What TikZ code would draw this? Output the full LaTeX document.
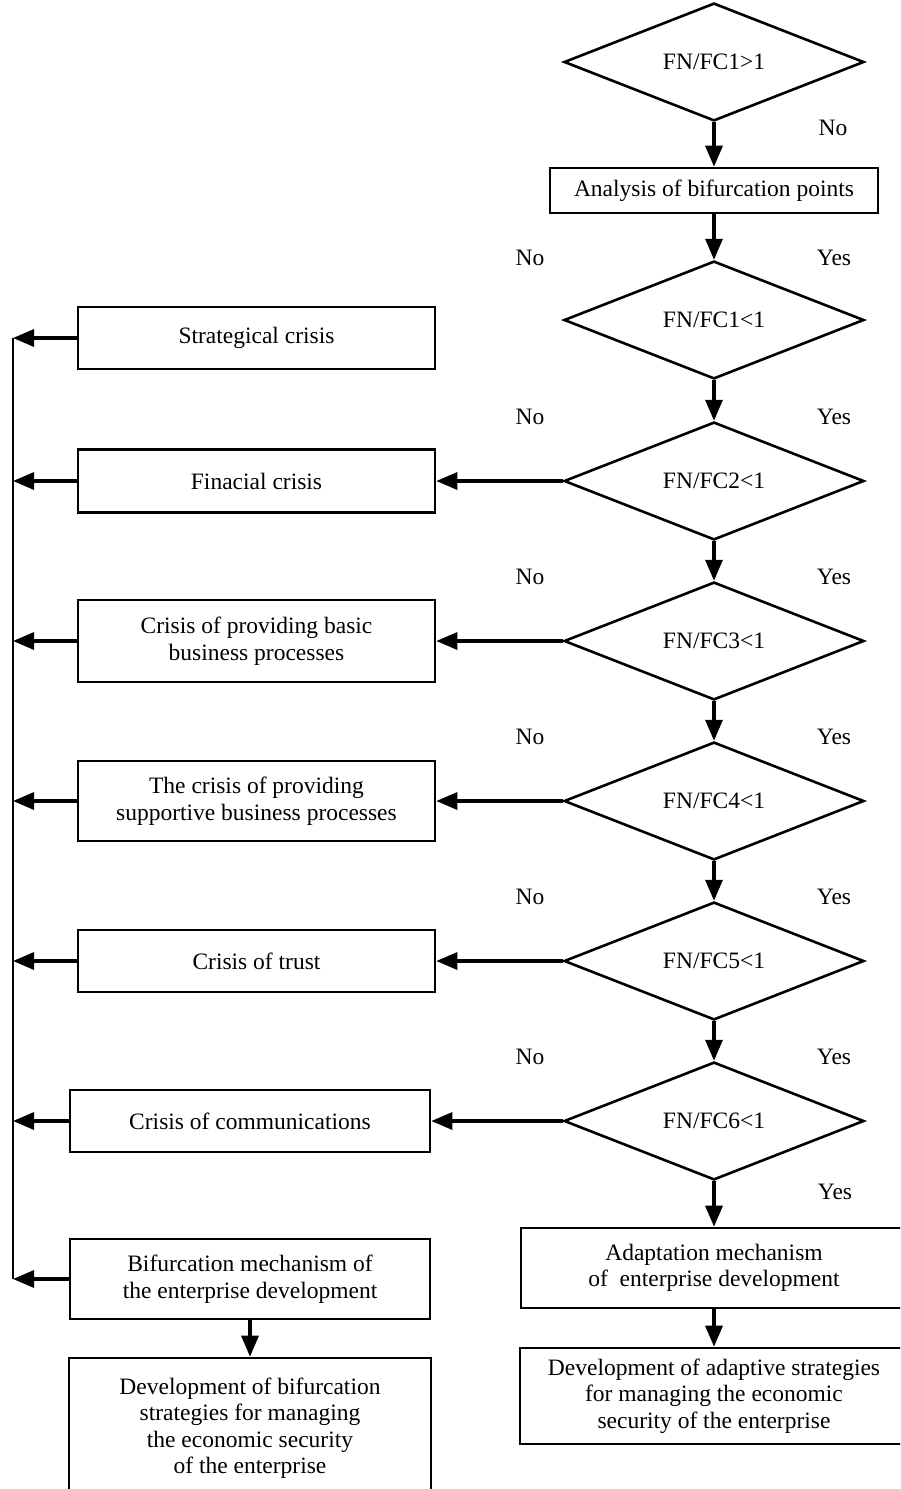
\documentclass[tikz,border=0pt]{standalone}
\usepackage{fontspec}
\setmainfont{Liberation Serif}
\usetikzlibrary{shapes.geometric,arrows.meta}
\begin{document}
\begin{tikzpicture}[x=1pt,y=-1pt,
 box/.style={draw,line width=2.6pt,align=center,inner sep=0pt,font=\fontsize{23.5}{26.5}\selectfont},
 dia/.style={draw,diamond,line width=2.6pt,minimum width=300pt,minimum height=112pt,inner sep=0pt,font=\fontsize{23.5}{26.5}\selectfont},
 lbl/.style={font=\fontsize{23.5}{26.5}\selectfont,inner sep=0pt},
 arr/.style={line width=3.2pt,-{Triangle[length=21pt 0 0,width=17pt 0 0]}}]
\useasboundingbox (0,0) rectangle (900,1489);
\clip (0,0) rectangle (900,1489);
% right column
\node[dia] (d1) at (714,62) {FN/FC1>1};
\node[box,minimum width=328pt,minimum height=45pt] (an) at (714,190.5) {Analysis of bifurcation points};
\node[dia] (d2) at (714,320) {FN/FC1<1};
\node[dia] (d3) at (714,481) {FN/FC2<1};
\node[dia] (d4) at (714,641) {FN/FC3<1};
\node[dia] (d5) at (714,801) {FN/FC4<1};
\node[dia] (d6) at (714,961) {FN/FC5<1};
\node[dia] (d7) at (714,1121) {FN/FC6<1};
\node[box,minimum width=386pt,minimum height=80pt] (ad) at (714,1268) {Adaptation mechanism\\of\ \ enterprise development};
\node[box,minimum width=388pt,minimum height=96pt] (das) at (714,1396) {Development of adaptive strategies\\for managing the economic\\security of the enterprise};
% left column
\node[box,minimum width=357pt,minimum height=62pt] (c1) at (256.5,338) {Strategical crisis};
\node[box,minimum width=357pt,minimum height=63pt] (c2) at (256.5,481) {Finacial crisis};
\node[box,minimum width=357pt,minimum height=82pt] (c3) at (256.5,641) {Crisis of providing basic\\business processes};
\node[box,minimum width=357pt,minimum height=80pt] (c4) at (256.5,801) {The crisis of providing\\supportive business processes};
\node[box,minimum width=357pt,minimum height=62pt] (c5) at (256.5,961) {Crisis of trust};
\node[box,minimum width=360pt,minimum height=62pt] (c6) at (250,1121) {Crisis of communications};
\node[box,minimum width=360pt,minimum height=80pt] (c7) at (250,1279) {Bifurcation mechanism of\\the enterprise development};
\node[box,minimum width=362pt,minimum height=140pt] (c8) at (250,1428) {Development of bifurcation\\strategies for managing\\the economic security\\of the enterprise};
% labels
\node[lbl] (no1) at (833,128) {No};
\foreach \i/\yy in {2/258,3/417,4/577,5/737,6/897,7/1057}{
  \node[lbl] (no\i) at (530,\yy) {No};
  \node[lbl] (yes\i) at (834,\yy) {Yes};
}
\node[lbl] (yes8) at (835,1192) {Yes};
% vertical flow
\draw[arr] (d1.south) -- (an.north);
\draw[arr] (an.south) -- (d2.north);
\draw[arr] (d2.south) -- (d3.north);
\draw[arr] (d3.south) -- (d4.north);
\draw[arr] (d4.south) -- (d5.north);
\draw[arr] (d5.south) -- (d6.north);
\draw[arr] (d6.south) -- (d7.north);
\draw[arr] (d7.south) -- (ad.north);
\draw[arr] (ad.south) -- (das.north);
\draw[arr] (c7.south) -- (c8.north);
% horizontal flow
\draw[arr] (d3.west) -- (c2.east);
\draw[arr] (d4.west) -- (c3.east);
\draw[arr] (d5.west) -- (c4.east);
\draw[arr] (d6.west) -- (c5.east);
\draw[arr] (d7.west) -- (c6.east);
% spine
\coordinate (sp) at (13,0);
\draw[line width=2.6pt] (c1.west -| sp) -- (c7.west -| sp);
\foreach \c in {c1,c2,c3,c4,c5,c6,c7}{
  \draw[arr] (\c.west) -- (\c.west -| sp);
}
\end{tikzpicture}
\end{document}
